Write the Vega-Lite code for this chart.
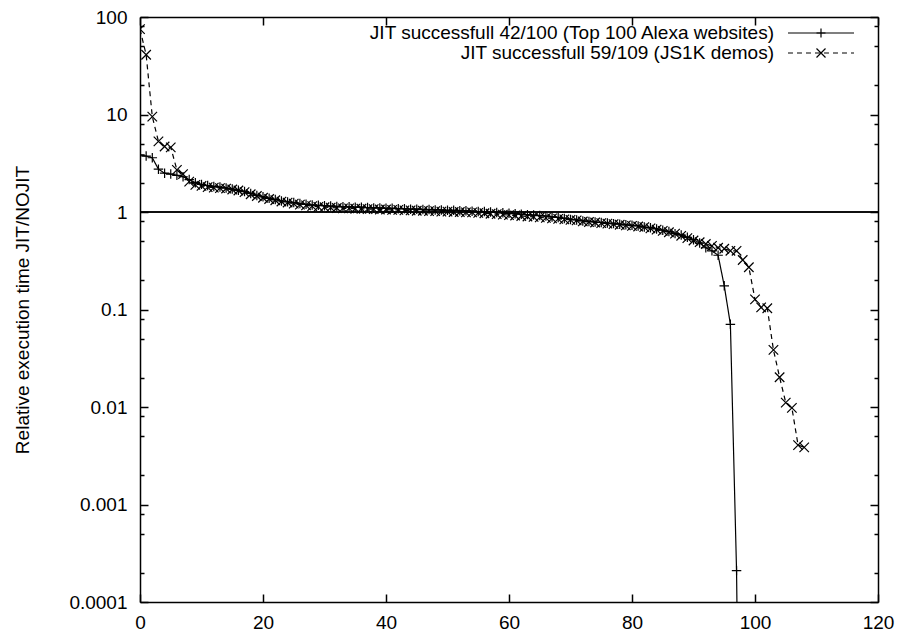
{
  "$schema": "https://vega.github.io/schema/vega-lite/v6.json",
  "width": 738,
  "height": 585,
  "autosize": {"type": "none"},
  "padding": {"left": 140, "top": 17, "right": 21, "bottom": 29},
  "background": "white",
  "config": {
    "view": {"stroke": null},
    "font": "Liberation Sans",
    "axis": {
      "domainColor": "black", "domainWidth": 1.5,
      "tickColor": "black", "tickWidth": 1.5, "tickSize": -8,
      "labelColor": "black", "labelFont": "Liberation Sans", "labelFontSize": 19,
      "titleFont": "Liberation Sans", "titleFontSize": 19, "titleFontWeight": "normal", "titleColor": "black",
      "grid": false, "labelFlush": false, "labelOverlap": false, "labelBound": false
    }
  },
  "resolve": {"axis": {"x": "independent", "y": "independent"}},
  "data": {"values": [
    {"benchmark":"JIT successfull 42/100 (Top 100 Alexa websites)","index":0,"ratio":3.85},
    {"benchmark":"JIT successfull 42/100 (Top 100 Alexa websites)","index":1,"ratio":3.75},
    {"benchmark":"JIT successfull 42/100 (Top 100 Alexa websites)","index":2,"ratio":3.6},
    {"benchmark":"JIT successfull 42/100 (Top 100 Alexa websites)","index":3,"ratio":2.75},
    {"benchmark":"JIT successfull 42/100 (Top 100 Alexa websites)","index":4,"ratio":2.5},
    {"benchmark":"JIT successfull 42/100 (Top 100 Alexa websites)","index":5,"ratio":2.45},
    {"benchmark":"JIT successfull 42/100 (Top 100 Alexa websites)","index":6,"ratio":2.38},
    {"benchmark":"JIT successfull 42/100 (Top 100 Alexa websites)","index":7,"ratio":2.3},
    {"benchmark":"JIT successfull 42/100 (Top 100 Alexa websites)","index":8,"ratio":2.15},
    {"benchmark":"JIT successfull 42/100 (Top 100 Alexa websites)","index":9,"ratio":2.0},
    {"benchmark":"JIT successfull 42/100 (Top 100 Alexa websites)","index":10,"ratio":1.92},
    {"benchmark":"JIT successfull 42/100 (Top 100 Alexa websites)","index":11,"ratio":1.87},
    {"benchmark":"JIT successfull 42/100 (Top 100 Alexa websites)","index":12,"ratio":1.83},
    {"benchmark":"JIT successfull 42/100 (Top 100 Alexa websites)","index":13,"ratio":1.8},
    {"benchmark":"JIT successfull 42/100 (Top 100 Alexa websites)","index":14,"ratio":1.76},
    {"benchmark":"JIT successfull 42/100 (Top 100 Alexa websites)","index":15,"ratio":1.72},
    {"benchmark":"JIT successfull 42/100 (Top 100 Alexa websites)","index":16,"ratio":1.67},
    {"benchmark":"JIT successfull 42/100 (Top 100 Alexa websites)","index":17,"ratio":1.62},
    {"benchmark":"JIT successfull 42/100 (Top 100 Alexa websites)","index":18,"ratio":1.55},
    {"benchmark":"JIT successfull 42/100 (Top 100 Alexa websites)","index":19,"ratio":1.48},
    {"benchmark":"JIT successfull 42/100 (Top 100 Alexa websites)","index":20,"ratio":1.43},
    {"benchmark":"JIT successfull 42/100 (Top 100 Alexa websites)","index":21,"ratio":1.38},
    {"benchmark":"JIT successfull 42/100 (Top 100 Alexa websites)","index":22,"ratio":1.34},
    {"benchmark":"JIT successfull 42/100 (Top 100 Alexa websites)","index":23,"ratio":1.3},
    {"benchmark":"JIT successfull 42/100 (Top 100 Alexa websites)","index":24,"ratio":1.27},
    {"benchmark":"JIT successfull 42/100 (Top 100 Alexa websites)","index":25,"ratio":1.25},
    {"benchmark":"JIT successfull 42/100 (Top 100 Alexa websites)","index":26,"ratio":1.22},
    {"benchmark":"JIT successfull 42/100 (Top 100 Alexa websites)","index":27,"ratio":1.2},
    {"benchmark":"JIT successfull 42/100 (Top 100 Alexa websites)","index":28,"ratio":1.18},
    {"benchmark":"JIT successfull 42/100 (Top 100 Alexa websites)","index":29,"ratio":1.17},
    {"benchmark":"JIT successfull 42/100 (Top 100 Alexa websites)","index":30,"ratio":1.16},
    {"benchmark":"JIT successfull 42/100 (Top 100 Alexa websites)","index":31,"ratio":1.15},
    {"benchmark":"JIT successfull 42/100 (Top 100 Alexa websites)","index":32,"ratio":1.14},
    {"benchmark":"JIT successfull 42/100 (Top 100 Alexa websites)","index":33,"ratio":1.13},
    {"benchmark":"JIT successfull 42/100 (Top 100 Alexa websites)","index":34,"ratio":1.13},
    {"benchmark":"JIT successfull 42/100 (Top 100 Alexa websites)","index":35,"ratio":1.12},
    {"benchmark":"JIT successfull 42/100 (Top 100 Alexa websites)","index":36,"ratio":1.12},
    {"benchmark":"JIT successfull 42/100 (Top 100 Alexa websites)","index":37,"ratio":1.11},
    {"benchmark":"JIT successfull 42/100 (Top 100 Alexa websites)","index":38,"ratio":1.1},
    {"benchmark":"JIT successfull 42/100 (Top 100 Alexa websites)","index":39,"ratio":1.1},
    {"benchmark":"JIT successfull 42/100 (Top 100 Alexa websites)","index":40,"ratio":1.09},
    {"benchmark":"JIT successfull 42/100 (Top 100 Alexa websites)","index":41,"ratio":1.09},
    {"benchmark":"JIT successfull 42/100 (Top 100 Alexa websites)","index":42,"ratio":1.08},
    {"benchmark":"JIT successfull 42/100 (Top 100 Alexa websites)","index":43,"ratio":1.08},
    {"benchmark":"JIT successfull 42/100 (Top 100 Alexa websites)","index":44,"ratio":1.07},
    {"benchmark":"JIT successfull 42/100 (Top 100 Alexa websites)","index":45,"ratio":1.07},
    {"benchmark":"JIT successfull 42/100 (Top 100 Alexa websites)","index":46,"ratio":1.06},
    {"benchmark":"JIT successfull 42/100 (Top 100 Alexa websites)","index":47,"ratio":1.06},
    {"benchmark":"JIT successfull 42/100 (Top 100 Alexa websites)","index":48,"ratio":1.05},
    {"benchmark":"JIT successfull 42/100 (Top 100 Alexa websites)","index":49,"ratio":1.05},
    {"benchmark":"JIT successfull 42/100 (Top 100 Alexa websites)","index":50,"ratio":1.04},
    {"benchmark":"JIT successfull 42/100 (Top 100 Alexa websites)","index":51,"ratio":1.04},
    {"benchmark":"JIT successfull 42/100 (Top 100 Alexa websites)","index":52,"ratio":1.03},
    {"benchmark":"JIT successfull 42/100 (Top 100 Alexa websites)","index":53,"ratio":1.03},
    {"benchmark":"JIT successfull 42/100 (Top 100 Alexa websites)","index":54,"ratio":1.02},
    {"benchmark":"JIT successfull 42/100 (Top 100 Alexa websites)","index":55,"ratio":1.01},
    {"benchmark":"JIT successfull 42/100 (Top 100 Alexa websites)","index":56,"ratio":1.01},
    {"benchmark":"JIT successfull 42/100 (Top 100 Alexa websites)","index":57,"ratio":1.0},
    {"benchmark":"JIT successfull 42/100 (Top 100 Alexa websites)","index":58,"ratio":0.99},
    {"benchmark":"JIT successfull 42/100 (Top 100 Alexa websites)","index":59,"ratio":0.98},
    {"benchmark":"JIT successfull 42/100 (Top 100 Alexa websites)","index":60,"ratio":0.97},
    {"benchmark":"JIT successfull 42/100 (Top 100 Alexa websites)","index":61,"ratio":0.96},
    {"benchmark":"JIT successfull 42/100 (Top 100 Alexa websites)","index":62,"ratio":0.95},
    {"benchmark":"JIT successfull 42/100 (Top 100 Alexa websites)","index":63,"ratio":0.94},
    {"benchmark":"JIT successfull 42/100 (Top 100 Alexa websites)","index":64,"ratio":0.93},
    {"benchmark":"JIT successfull 42/100 (Top 100 Alexa websites)","index":65,"ratio":0.92},
    {"benchmark":"JIT successfull 42/100 (Top 100 Alexa websites)","index":66,"ratio":0.91},
    {"benchmark":"JIT successfull 42/100 (Top 100 Alexa websites)","index":67,"ratio":0.89},
    {"benchmark":"JIT successfull 42/100 (Top 100 Alexa websites)","index":68,"ratio":0.88},
    {"benchmark":"JIT successfull 42/100 (Top 100 Alexa websites)","index":69,"ratio":0.86},
    {"benchmark":"JIT successfull 42/100 (Top 100 Alexa websites)","index":70,"ratio":0.84},
    {"benchmark":"JIT successfull 42/100 (Top 100 Alexa websites)","index":71,"ratio":0.83},
    {"benchmark":"JIT successfull 42/100 (Top 100 Alexa websites)","index":72,"ratio":0.81},
    {"benchmark":"JIT successfull 42/100 (Top 100 Alexa websites)","index":73,"ratio":0.8},
    {"benchmark":"JIT successfull 42/100 (Top 100 Alexa websites)","index":74,"ratio":0.79},
    {"benchmark":"JIT successfull 42/100 (Top 100 Alexa websites)","index":75,"ratio":0.78},
    {"benchmark":"JIT successfull 42/100 (Top 100 Alexa websites)","index":76,"ratio":0.77},
    {"benchmark":"JIT successfull 42/100 (Top 100 Alexa websites)","index":77,"ratio":0.76},
    {"benchmark":"JIT successfull 42/100 (Top 100 Alexa websites)","index":78,"ratio":0.75},
    {"benchmark":"JIT successfull 42/100 (Top 100 Alexa websites)","index":79,"ratio":0.74},
    {"benchmark":"JIT successfull 42/100 (Top 100 Alexa websites)","index":80,"ratio":0.73},
    {"benchmark":"JIT successfull 42/100 (Top 100 Alexa websites)","index":81,"ratio":0.72},
    {"benchmark":"JIT successfull 42/100 (Top 100 Alexa websites)","index":82,"ratio":0.7},
    {"benchmark":"JIT successfull 42/100 (Top 100 Alexa websites)","index":83,"ratio":0.69},
    {"benchmark":"JIT successfull 42/100 (Top 100 Alexa websites)","index":84,"ratio":0.67},
    {"benchmark":"JIT successfull 42/100 (Top 100 Alexa websites)","index":85,"ratio":0.65},
    {"benchmark":"JIT successfull 42/100 (Top 100 Alexa websites)","index":86,"ratio":0.63},
    {"benchmark":"JIT successfull 42/100 (Top 100 Alexa websites)","index":87,"ratio":0.6},
    {"benchmark":"JIT successfull 42/100 (Top 100 Alexa websites)","index":88,"ratio":0.58},
    {"benchmark":"JIT successfull 42/100 (Top 100 Alexa websites)","index":89,"ratio":0.55},
    {"benchmark":"JIT successfull 42/100 (Top 100 Alexa websites)","index":90,"ratio":0.52},
    {"benchmark":"JIT successfull 42/100 (Top 100 Alexa websites)","index":91,"ratio":0.48},
    {"benchmark":"JIT successfull 42/100 (Top 100 Alexa websites)","index":92,"ratio":0.43},
    {"benchmark":"JIT successfull 42/100 (Top 100 Alexa websites)","index":93,"ratio":0.4},
    {"benchmark":"JIT successfull 42/100 (Top 100 Alexa websites)","index":94,"ratio":0.36},
    {"benchmark":"JIT successfull 42/100 (Top 100 Alexa websites)","index":95,"ratio":0.175},
    {"benchmark":"JIT successfull 42/100 (Top 100 Alexa websites)","index":96,"ratio":0.0705},
    {"benchmark":"JIT successfull 42/100 (Top 100 Alexa websites)","index":97,"ratio":0.00021},
    {"benchmark":"JIT successfull 42/100 (Top 100 Alexa websites)","index":98,"ratio":1e-9},
    {"benchmark":"JIT successfull 59/109 (JS1K demos)","index":0,"ratio":75},
    {"benchmark":"JIT successfull 59/109 (JS1K demos)","index":1,"ratio":41},
    {"benchmark":"JIT successfull 59/109 (JS1K demos)","index":2,"ratio":9.5},
    {"benchmark":"JIT successfull 59/109 (JS1K demos)","index":3,"ratio":5.3},
    {"benchmark":"JIT successfull 59/109 (JS1K demos)","index":4,"ratio":4.7},
    {"benchmark":"JIT successfull 59/109 (JS1K demos)","index":5,"ratio":4.6},
    {"benchmark":"JIT successfull 59/109 (JS1K demos)","index":6,"ratio":2.7},
    {"benchmark":"JIT successfull 59/109 (JS1K demos)","index":7,"ratio":2.45},
    {"benchmark":"JIT successfull 59/109 (JS1K demos)","index":8,"ratio":2.05},
    {"benchmark":"JIT successfull 59/109 (JS1K demos)","index":9,"ratio":1.9},
    {"benchmark":"JIT successfull 59/109 (JS1K demos)","index":10,"ratio":1.85},
    {"benchmark":"JIT successfull 59/109 (JS1K demos)","index":11,"ratio":1.8},
    {"benchmark":"JIT successfull 59/109 (JS1K demos)","index":12,"ratio":1.78},
    {"benchmark":"JIT successfull 59/109 (JS1K demos)","index":13,"ratio":1.76},
    {"benchmark":"JIT successfull 59/109 (JS1K demos)","index":14,"ratio":1.74},
    {"benchmark":"JIT successfull 59/109 (JS1K demos)","index":15,"ratio":1.7},
    {"benchmark":"JIT successfull 59/109 (JS1K demos)","index":16,"ratio":1.66},
    {"benchmark":"JIT successfull 59/109 (JS1K demos)","index":17,"ratio":1.6},
    {"benchmark":"JIT successfull 59/109 (JS1K demos)","index":18,"ratio":1.52},
    {"benchmark":"JIT successfull 59/109 (JS1K demos)","index":19,"ratio":1.46},
    {"benchmark":"JIT successfull 59/109 (JS1K demos)","index":20,"ratio":1.4},
    {"benchmark":"JIT successfull 59/109 (JS1K demos)","index":21,"ratio":1.36},
    {"benchmark":"JIT successfull 59/109 (JS1K demos)","index":22,"ratio":1.32},
    {"benchmark":"JIT successfull 59/109 (JS1K demos)","index":23,"ratio":1.28},
    {"benchmark":"JIT successfull 59/109 (JS1K demos)","index":24,"ratio":1.25},
    {"benchmark":"JIT successfull 59/109 (JS1K demos)","index":25,"ratio":1.22},
    {"benchmark":"JIT successfull 59/109 (JS1K demos)","index":26,"ratio":1.19},
    {"benchmark":"JIT successfull 59/109 (JS1K demos)","index":27,"ratio":1.17},
    {"benchmark":"JIT successfull 59/109 (JS1K demos)","index":28,"ratio":1.15},
    {"benchmark":"JIT successfull 59/109 (JS1K demos)","index":29,"ratio":1.13},
    {"benchmark":"JIT successfull 59/109 (JS1K demos)","index":30,"ratio":1.12},
    {"benchmark":"JIT successfull 59/109 (JS1K demos)","index":31,"ratio":1.11},
    {"benchmark":"JIT successfull 59/109 (JS1K demos)","index":32,"ratio":1.1},
    {"benchmark":"JIT successfull 59/109 (JS1K demos)","index":33,"ratio":1.09},
    {"benchmark":"JIT successfull 59/109 (JS1K demos)","index":34,"ratio":1.09},
    {"benchmark":"JIT successfull 59/109 (JS1K demos)","index":35,"ratio":1.08},
    {"benchmark":"JIT successfull 59/109 (JS1K demos)","index":36,"ratio":1.08},
    {"benchmark":"JIT successfull 59/109 (JS1K demos)","index":37,"ratio":1.07},
    {"benchmark":"JIT successfull 59/109 (JS1K demos)","index":38,"ratio":1.07},
    {"benchmark":"JIT successfull 59/109 (JS1K demos)","index":39,"ratio":1.06},
    {"benchmark":"JIT successfull 59/109 (JS1K demos)","index":40,"ratio":1.06},
    {"benchmark":"JIT successfull 59/109 (JS1K demos)","index":41,"ratio":1.05},
    {"benchmark":"JIT successfull 59/109 (JS1K demos)","index":42,"ratio":1.05},
    {"benchmark":"JIT successfull 59/109 (JS1K demos)","index":43,"ratio":1.04},
    {"benchmark":"JIT successfull 59/109 (JS1K demos)","index":44,"ratio":1.04},
    {"benchmark":"JIT successfull 59/109 (JS1K demos)","index":45,"ratio":1.03},
    {"benchmark":"JIT successfull 59/109 (JS1K demos)","index":46,"ratio":1.03},
    {"benchmark":"JIT successfull 59/109 (JS1K demos)","index":47,"ratio":1.02},
    {"benchmark":"JIT successfull 59/109 (JS1K demos)","index":48,"ratio":1.02},
    {"benchmark":"JIT successfull 59/109 (JS1K demos)","index":49,"ratio":1.01},
    {"benchmark":"JIT successfull 59/109 (JS1K demos)","index":50,"ratio":1.01},
    {"benchmark":"JIT successfull 59/109 (JS1K demos)","index":51,"ratio":1.0},
    {"benchmark":"JIT successfull 59/109 (JS1K demos)","index":52,"ratio":1.0},
    {"benchmark":"JIT successfull 59/109 (JS1K demos)","index":53,"ratio":0.99},
    {"benchmark":"JIT successfull 59/109 (JS1K demos)","index":54,"ratio":0.99},
    {"benchmark":"JIT successfull 59/109 (JS1K demos)","index":55,"ratio":0.98},
    {"benchmark":"JIT successfull 59/109 (JS1K demos)","index":56,"ratio":0.97},
    {"benchmark":"JIT successfull 59/109 (JS1K demos)","index":57,"ratio":0.96},
    {"benchmark":"JIT successfull 59/109 (JS1K demos)","index":58,"ratio":0.95},
    {"benchmark":"JIT successfull 59/109 (JS1K demos)","index":59,"ratio":0.94},
    {"benchmark":"JIT successfull 59/109 (JS1K demos)","index":60,"ratio":0.93},
    {"benchmark":"JIT successfull 59/109 (JS1K demos)","index":61,"ratio":0.92},
    {"benchmark":"JIT successfull 59/109 (JS1K demos)","index":62,"ratio":0.91},
    {"benchmark":"JIT successfull 59/109 (JS1K demos)","index":63,"ratio":0.9},
    {"benchmark":"JIT successfull 59/109 (JS1K demos)","index":64,"ratio":0.89},
    {"benchmark":"JIT successfull 59/109 (JS1K demos)","index":65,"ratio":0.88},
    {"benchmark":"JIT successfull 59/109 (JS1K demos)","index":66,"ratio":0.87},
    {"benchmark":"JIT successfull 59/109 (JS1K demos)","index":67,"ratio":0.86},
    {"benchmark":"JIT successfull 59/109 (JS1K demos)","index":68,"ratio":0.85},
    {"benchmark":"JIT successfull 59/109 (JS1K demos)","index":69,"ratio":0.84},
    {"benchmark":"JIT successfull 59/109 (JS1K demos)","index":70,"ratio":0.83},
    {"benchmark":"JIT successfull 59/109 (JS1K demos)","index":71,"ratio":0.82},
    {"benchmark":"JIT successfull 59/109 (JS1K demos)","index":72,"ratio":0.8},
    {"benchmark":"JIT successfull 59/109 (JS1K demos)","index":73,"ratio":0.79},
    {"benchmark":"JIT successfull 59/109 (JS1K demos)","index":74,"ratio":0.78},
    {"benchmark":"JIT successfull 59/109 (JS1K demos)","index":75,"ratio":0.77},
    {"benchmark":"JIT successfull 59/109 (JS1K demos)","index":76,"ratio":0.76},
    {"benchmark":"JIT successfull 59/109 (JS1K demos)","index":77,"ratio":0.75},
    {"benchmark":"JIT successfull 59/109 (JS1K demos)","index":78,"ratio":0.74},
    {"benchmark":"JIT successfull 59/109 (JS1K demos)","index":79,"ratio":0.73},
    {"benchmark":"JIT successfull 59/109 (JS1K demos)","index":80,"ratio":0.72},
    {"benchmark":"JIT successfull 59/109 (JS1K demos)","index":81,"ratio":0.71},
    {"benchmark":"JIT successfull 59/109 (JS1K demos)","index":82,"ratio":0.7},
    {"benchmark":"JIT successfull 59/109 (JS1K demos)","index":83,"ratio":0.68},
    {"benchmark":"JIT successfull 59/109 (JS1K demos)","index":84,"ratio":0.66},
    {"benchmark":"JIT successfull 59/109 (JS1K demos)","index":85,"ratio":0.64},
    {"benchmark":"JIT successfull 59/109 (JS1K demos)","index":86,"ratio":0.62},
    {"benchmark":"JIT successfull 59/109 (JS1K demos)","index":87,"ratio":0.6},
    {"benchmark":"JIT successfull 59/109 (JS1K demos)","index":88,"ratio":0.57},
    {"benchmark":"JIT successfull 59/109 (JS1K demos)","index":89,"ratio":0.54},
    {"benchmark":"JIT successfull 59/109 (JS1K demos)","index":90,"ratio":0.51},
    {"benchmark":"JIT successfull 59/109 (JS1K demos)","index":91,"ratio":0.49},
    {"benchmark":"JIT successfull 59/109 (JS1K demos)","index":92,"ratio":0.47},
    {"benchmark":"JIT successfull 59/109 (JS1K demos)","index":93,"ratio":0.45},
    {"benchmark":"JIT successfull 59/109 (JS1K demos)","index":94,"ratio":0.43},
    {"benchmark":"JIT successfull 59/109 (JS1K demos)","index":95,"ratio":0.42},
    {"benchmark":"JIT successfull 59/109 (JS1K demos)","index":96,"ratio":0.4},
    {"benchmark":"JIT successfull 59/109 (JS1K demos)","index":97,"ratio":0.4},
    {"benchmark":"JIT successfull 59/109 (JS1K demos)","index":98,"ratio":0.322},
    {"benchmark":"JIT successfull 59/109 (JS1K demos)","index":99,"ratio":0.271},
    {"benchmark":"JIT successfull 59/109 (JS1K demos)","index":100,"ratio":0.127},
    {"benchmark":"JIT successfull 59/109 (JS1K demos)","index":101,"ratio":0.105},
    {"benchmark":"JIT successfull 59/109 (JS1K demos)","index":102,"ratio":0.103},
    {"benchmark":"JIT successfull 59/109 (JS1K demos)","index":103,"ratio":0.0385},
    {"benchmark":"JIT successfull 59/109 (JS1K demos)","index":104,"ratio":0.0202},
    {"benchmark":"JIT successfull 59/109 (JS1K demos)","index":105,"ratio":0.0111},
    {"benchmark":"JIT successfull 59/109 (JS1K demos)","index":106,"ratio":0.0098},
    {"benchmark":"JIT successfull 59/109 (JS1K demos)","index":107,"ratio":0.00407},
    {"benchmark":"JIT successfull 59/109 (JS1K demos)","index":108,"ratio":0.00386}
  ]},
  "layer": [
    {
      "mark": {"type": "line", "clip": true, "color": "black", "strokeWidth": 1.2},
      "encoding": {
        "x": {"field": "index", "type": "quantitative",
          "scale": {"domain": [0, 120], "nice": false, "zero": false},
          "axis": {"orient": "bottom", "title": null, "values": [0, 20, 40, 60, 80, 100, 120], "format": "d",
            "labelPadding": 19, "labelBaseline": "top"}},
        "y": {"field": "ratio", "type": "quantitative",
          "scale": {"type": "log", "domain": [0.0001, 100], "nice": false},
          "axis": {"orient": "left", "title": "Relative execution time JIT/NOJIT", "titlePadding": 36,
            "values": [0.0001, 0.001, 0.01, 0.1, 1, 10, 100], "format": "~g",
            "labelPadding": 21, "labelAlign": "right", "labelBaseline": "middle"}},
        "strokeDash": {"field": "benchmark", "type": "nominal",
          "scale": {"range": [[1, 0], [5, 4]]},
          "legend": {"title": null, "orient": "none", "legendX": 671, "legendY": 6, "padding": 0,
            "labelAlign": "right", "labelOffset": -57, "labelFontSize": 19, "labelFont": "Liberation Sans", "labelColor": "black", "labelLimit": 700,
            "symbolType": "M-3.67,0H3.67", "symbolSize": 324, "symbolStrokeColor": "black", "symbolStrokeWidth": 1.2, "symbolFillColor": "transparent",
            "rowPadding": 0}}
      }
    },
    {
      "mark": {"type": "point", "clip": true, "filled": false, "color": "black", "strokeWidth": 1.2, "opacity": 1, "size": 90},
      "encoding": {
        "x": {"field": "index", "type": "quantitative",
          "scale": {"domain": [0, 120], "nice": false, "zero": false},
          "axis": {"orient": "top", "title": null, "labels": false, "values": [0, 20, 40, 60, 80, 100, 120]}},
        "y": {"field": "ratio", "type": "quantitative",
          "scale": {"type": "log", "domain": [0.0001, 100], "nice": false},
          "axis": {"orient": "right", "title": null, "labels": false,
            "values": [0.0001, 0.001, 0.01, 0.1, 1, 10, 100]}},
        "shape": {"field": "benchmark", "type": "nominal",
          "scale": {"domain": ["JIT successfull 42/100 (Top 100 Alexa websites)", "JIT successfull 59/109 (JS1K demos)"], "range": ["M-1,0H1M0,-1V1", "M-1,-1L1,1M-1,1L1,-1"]},
          "legend": {"title": null, "orient": "none", "legendX": 671, "legendY": 6, "padding": 0,
            "labelExpr": "''", "labelFontSize": 20, "rowPadding": 0,
            "symbolSize": 81, "symbolStrokeColor": "black", "symbolStrokeWidth": 1.2, "symbolFillColor": "transparent"}}
      }
    },
    {
      "data": {"values": [{"reference": 1}]},
      "mark": {"type": "rule", "color": "black", "strokeWidth": 1.5},
      "encoding": {
        "y": {"field": "reference", "type": "quantitative", "scale": {"type": "log", "domain": [0.0001, 100], "nice": false},
          "axis": {"orient": "left", "title": null, "labels": false, "domain": false, "tickSize": -4,
            "values": [0.0002, 0.0005, 0.0008, 0.002, 0.005, 0.008, 0.02, 0.05, 0.08, 0.2, 0.5, 0.8, 2, 5, 8, 20, 50, 80]}}
      }
    },
    {
      "data": {"values": [{"reference": 1}]},
      "mark": {"type": "rule", "color": "black", "strokeWidth": 1.5},
      "encoding": {
        "y": {"field": "reference", "type": "quantitative", "scale": {"type": "log", "domain": [0.0001, 100], "nice": false},
          "axis": {"orient": "right", "title": null, "labels": false, "domain": false, "tickSize": -4,
            "values": [0.0002, 0.0005, 0.0008, 0.002, 0.005, 0.008, 0.02, 0.05, 0.08, 0.2, 0.5, 0.8, 2, 5, 8, 20, 50, 80]}}
      }
    }
  ]
}
